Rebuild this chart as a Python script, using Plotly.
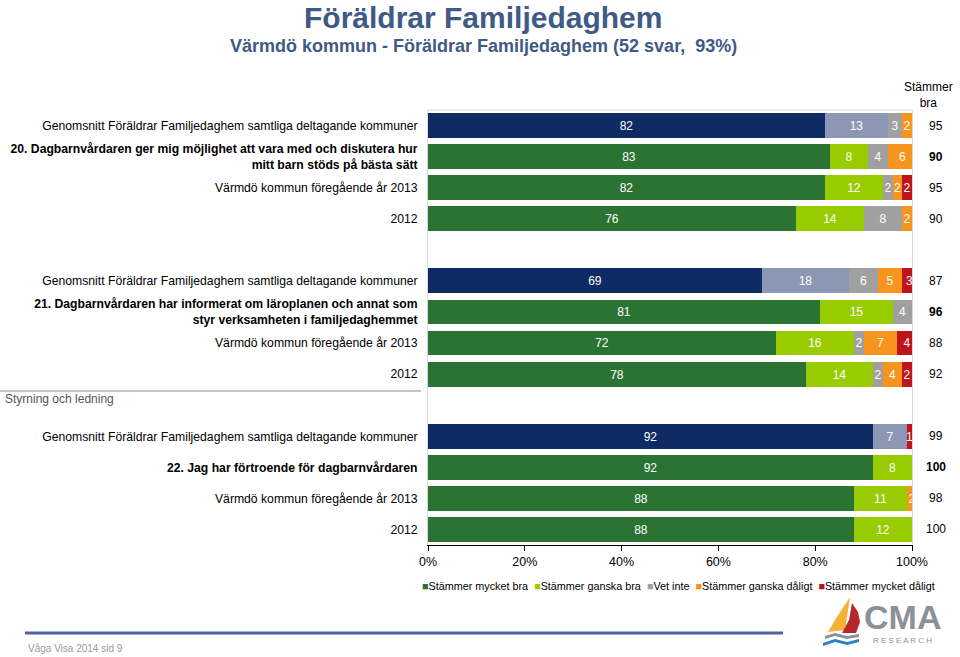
import plotly.graph_objects as go

# ---------------- data ----------------
categories = ["Stämmer mycket bra", "Stämmer ganska bra", "Vet inte",
              "Stämmer ganska dåligt", "Stämmer mycket dåligt"]

row_labels = [
    "Genomsnitt Föräldrar Familjedaghem samtliga deltagande kommuner",
    "<b>20. Dagbarnvårdaren ger mig möjlighet att vara med och diskutera hur<br>mitt barn stöds på bästa sätt</b>",
    "Värmdö kommun föregående år 2013",
    "2012",
    "Genomsnitt Föräldrar Familjedaghem samtliga deltagande kommuner",
    "<b>21. Dagbarnvårdaren har informerat om läroplanen och annat som<br>styr verksamheten i familjedaghemmet</b>",
    "Värmdö kommun föregående år 2013",
    "2012",
    "Genomsnitt Föräldrar Familjedaghem samtliga deltagande kommuner",
    "<b>22. Jag har förtroende för dagbarnvårdaren</b>",
    "Värmdö kommun föregående år 2013",
    "2012",
]
row_group = [0, 0, 0, 0, 1, 1, 1, 1, 2, 2, 2, 2]
row_is_avg = [True, False, False, False] * 3
row_is_main = [False, True, False, False] * 3

mycket_bra = [82, 83, 82, 76, 69, 81, 72, 78, 92, 92, 88, 88]
ganska_bra = [13, 8, 12, 14, 18, 15, 16, 14, 7, 8, 11, 12]
vet_inte = [3, 4, 2, 8, 6, 4, 2, 2, 0, 0, 0, 0]
ganska_daligt = [2, 6, 2, 2, 5, 0, 7, 4, 0, 0, 2, 0]
mycket_daligt = [1, 0, 2, 0, 3, 0, 4, 2, 1, 0, 0, 0]
series = [mycket_bra, ganska_bra, vet_inte, ganska_daligt, mycket_daligt]

stammer_bra = [95, 90, 95, 90, 87, 96, 88, 92, 99, 100, 98, 100]

x_ticks = [0, 20, 40, 60, 80, 100]
x_ticktext = ["0%", "20%", "40%", "60%", "80%", "100%"]

# ---------------- styles ----------------
colors_main = ["#2b7332", "#99cc00", "#a0a0a0", "#f7941d", "#c0141c"]
colors_avg = ["#0e2b63", "#8b97b5", "#a0a0a0", "#f7941d", "#c0141c"]
FONT = "Liberation Sans, Arial, sans-serif"
TITLE_COLOR = "#405a86"

W, H = 960, 657
L, R, T, B = 428, 48, 110, 112

# row positions: 4 rows per group, one empty slot between groups
ypos = [g * 5 + i % 4 for i, g in enumerate(row_group)]

fig = go.Figure()
for k, name in enumerate(categories):
    vals = series[k]
    for avg in (False, True):
        idx = [i for i in range(len(vals)) if row_is_avg[i] == avg]
        fig.add_trace(go.Bar(
            orientation="h",
            name=name,
            x=[vals[i] for i in idx],
            y=[ypos[i] for i in idx],
            text=[str(vals[i]) for i in idx],
            textposition="inside",
            insidetextanchor="middle",
            textfont=dict(color="white", size=12, family=FONT),
            marker=dict(color=(colors_avg if avg else colors_main)[k], line=dict(width=0)),
            width=0.8,
            showlegend=False,
            hoverinfo="skip",
        ))

fig.update_layout(
    width=W, height=H,
    margin=dict(l=L, r=R, t=T, b=B),
    barmode="stack",
    bargap=0,
    plot_bgcolor="white",
    paper_bgcolor="white",
    font=dict(family=FONT, size=12, color="black"),
    uniformtext=dict(minsize=12, mode="show"),
    showlegend=False,
)
fig.update_xaxes(
    range=[0, 100], tickvals=x_ticks, ticktext=x_ticktext,
    showgrid=False, zeroline=False,
    showline=True, linecolor="black", linewidth=1,
    ticks="outside", ticklen=5, tickcolor="black",
    tickfont=dict(size=12.5, family=FONT, color="black"),
)
fig.update_yaxes(
    range=[13.5, -0.5], tickvals=ypos, ticktext=row_labels,
    showgrid=False, zeroline=False,
    showline=True, linecolor="#d4d8e0", linewidth=1, mirror=True,
    ticks="", ticklabelstandoff=7,
    tickfont=dict(size=12.2, family=FONT, color="black"),
)

def px_x(x):
    return (x - L) / (W - L - R)

def px_y(y):
    return (H - B - y) / (H - T - B)

ann = []
# titles
ann.append(dict(text="<b>Föräldrar Familjedaghem</b>", x=px_x(483), y=px_y(17),
                xref="paper", yref="paper", showarrow=False, xanchor="center", yanchor="middle",
                font=dict(size=30, color=TITLE_COLOR, family=FONT)))
ann.append(dict(text="<b>Värmdö kommun - Föräldrar Familjedaghem (52 svar,  93%)</b>",
                x=px_x(483), y=px_y(46), xref="paper", yref="paper", showarrow=False,
                xanchor="center", yanchor="middle",
                font=dict(size=18, color=TITLE_COLOR, family=FONT)))
# Stämmer bra column
ann.append(dict(text="Stämmer<br>bra", x=px_x(928), y=px_y(95), xref="paper", yref="paper",
                showarrow=False, xanchor="center", yanchor="middle",
                font=dict(size=12, color="black", family=FONT)))
for i, v in enumerate(stammer_bra):
    t = f"<b>{v}</b>" if row_is_main[i] else str(v)
    ann.append(dict(text=t, x=px_x(936), y=ypos[i], xref="paper", yref="y",
                    showarrow=False, xanchor="center", yanchor="middle",
                    font=dict(size=12, color="black", family=FONT)))
# section label
ann.append(dict(text="Styrning och ledning", x=px_x(3), y=px_y(399), xref="paper", yref="paper",
                showarrow=False, xanchor="left", yanchor="middle",
                font=dict(size=12, color="#555555", family=FONT)))
# legend (built from categories / colors)
leg = "  ".join(f"<span style='color:{c}'>■</span>{n}" for n, c in zip(categories, colors_main))
ann.append(dict(text=leg, x=px_x(678), y=px_y(586), xref="paper", yref="paper",
                showarrow=False, xanchor="center", yanchor="middle",
                font=dict(size=10.8, color="black", family=FONT)))
# footer
ann.append(dict(text="Våga Visa 2014 sid 9", x=px_x(26), y=px_y(648), xref="paper", yref="paper",
                showarrow=False, xanchor="left", yanchor="middle",
                font=dict(size=10, color="#999999", family=FONT)))
# logo text
ann.append(dict(text="<b>CMA</b>", x=px_x(902), y=px_y(617), xref="paper", yref="paper",
                showarrow=False, xanchor="center", yanchor="middle",
                font=dict(size=34, color="#8c9097", family=FONT)))
ann.append(dict(text="R E S E A R C H", x=px_x(902), y=px_y(640), xref="paper", yref="paper",
                showarrow=False, xanchor="center", yanchor="middle",
                font=dict(size=8, color="#8c9097", family=FONT)))
fig.update_layout(annotations=ann)

def path(points, close=True):
    s = " ".join(("M" if j == 0 else "L") + f" {px_x(x):.5f},{px_y(y):.5f}" for j, (x, y) in enumerate(points))
    return s + (" Z" if close else "")

shapes = [
    # top frame line
    dict(type="line", xref="paper", yref="paper", x0=0, x1=1, y0=1, y1=1,
         line=dict(color="#d4d8e0", width=1)),
    # line above section label
    dict(type="line", xref="paper", yref="paper", x0=px_x(0), x1=px_x(421), y0=px_y(391), y1=px_y(391),
         line=dict(color="#888888", width=1)),
    # footer bar
    dict(type="line", xref="paper", yref="paper", x0=px_x(25), x1=px_x(783), y0=px_y(633), y1=px_y(633),
         line=dict(color="#4b64a0", width=3)),
    # logo sails
    dict(type="path", xref="paper", yref="paper",
         path=path([(850, 597), (844, 606), (835, 620), (828, 632), (845, 630)]),
         fillcolor="#f5b335", line=dict(width=0)),
    dict(type="path", xref="paper", yref="paper",
         path=path([(852, 603), (858, 612), (860, 622), (856, 633), (842, 633), (849, 620)]),
         fillcolor="#b8262e", line=dict(width=0)),
    dict(type="path", xref="paper", yref="paper",
         path=path([(825, 636), (835, 633), (847, 636), (859, 634), (859, 637), (847, 639), (835, 636), (825, 639)]),
         fillcolor="#8c9097", line=dict(width=0)),
    dict(type="path", xref="paper", yref="paper",
         path=path([(823, 643), (835, 639), (847, 642), (859, 639), (859, 642), (847, 645), (835, 642), (823, 646)]),
         fillcolor="#2f7fc0", line=dict(width=0)),
]
fig.update_layout(shapes=shapes)

fig.write_html("out.html", config={"displayModeBar": False},
               post_script="document.body.style.margin='0';")
